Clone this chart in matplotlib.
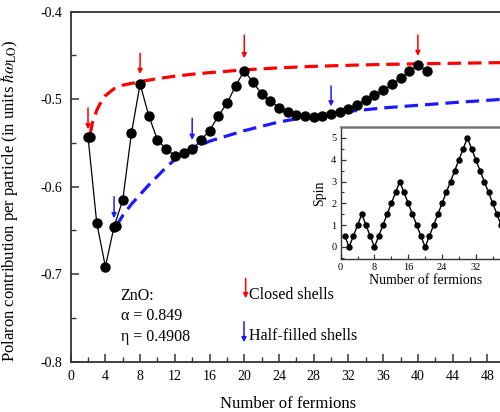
import matplotlib
matplotlib.use("Agg")
import matplotlib.pyplot as plt
from matplotlib.ticker import MultipleLocator

plt.rcParams['font.family'] = ['Liberation Serif', 'DejaVu Serif']
plt.rcParams['mathtext.fontset'] = 'stix'

# ---- main data: polaron contribution per particle ----
n_fermions = list(range(2, 42))
energy = [-0.5429, -0.6411, -0.6914, -0.6457, -0.6152, -0.5390, -0.4827, -0.5189,
          -0.5467, -0.5566, -0.5650, -0.5611, -0.5573, -0.5467, -0.5360, -0.5192,
          -0.5048, -0.4850, -0.4674, -0.4808, -0.4937, -0.5021, -0.5097, -0.5147,
          -0.5181, -0.5192, -0.5200, -0.5189, -0.5173, -0.5143, -0.5109, -0.5063,
          -0.5013, -0.4956, -0.4899, -0.4830, -0.4762, -0.4682, -0.4610, -0.4674]

# closed shell envelope (red dashed)
closed_x = [2.25, 2.5, 3, 3.5, 4, 5, 6, 7, 8, 10, 12, 14, 16, 20, 24, 28, 32, 36, 40, 44, 50]
closed_y = [-0.540, -0.527, -0.513, -0.503, -0.496, -0.488, -0.484, -0.482, -0.480,
            -0.4765, -0.4738, -0.4715, -0.4697, -0.4665, -0.4642, -0.4625, -0.4613,
            -0.4603, -0.4596, -0.4590, -0.4582]

# half-filled shell envelope (blue dashed)
half_x = [5.25, 6, 7, 8, 9, 10, 11, 12, 13, 14, 16, 18, 20, 24, 28, 32, 36, 40, 44, 50]
half_y = [-0.645, -0.633, -0.620, -0.609, -0.598, -0.588, -0.578, -0.569, -0.563, -0.557,
          -0.548, -0.542, -0.536, -0.526, -0.519, -0.514, -0.510, -0.507, -0.504, -0.500]

# arrows marking shells
closed_arrow_x = [2, 8, 20, 40]
closed_arrow_top = [-0.510, -0.4476, -0.4266, -0.4266]
closed_arrow_bot = [-0.5344, -0.4712, -0.4533, -0.4507]
half_arrow_x = [5, 14, 30]
half_arrow_top = [-0.6114, -0.5219, -0.4849]
half_arrow_bot = [-0.6361, -0.5466, -0.5083]

# inset: spin
spin_n = list(range(1, 41))
spin = [0.5, 0, 0.5, 1, 1.5, 1, 0.5, 0, 0.5, 1, 1.5, 2, 2.5, 3, 2.5, 2, 1.5, 1, 0.5, 0,
        0.5, 1, 1.5, 2, 2.5, 3, 3.5, 4, 4.5, 5, 4.5, 4, 3.5, 3, 2.5, 2, 1.5, 1, 0.5, 0]
inset_xticks = [0, 8, 16, 24, 32]

RED = '#ff0000'
BLUE = '#1a1aff'
SPINE = '#333333'

fig = plt.figure(figsize=(5.0, 4.12), dpi=100)
ax = fig.add_axes([0.1413, 0.1221, 0.8681, 0.8496])

ax.plot(n_fermions, energy, color='black', lw=0.9, marker='o', ms=6.5,
        mfc='black', mec='black', zorder=4)
ax.plot(closed_x, closed_y, color=RED, lw=2.3, dashes=(4.2, 2.2), zorder=3)
ax.plot(half_x, half_y, color=BLUE, lw=2.3, dashes=(4.2, 2.2), zorder=3)
# overlapping start markers of envelopes
ax.plot([closed_x[0]], [closed_y[0] - 0.003], 'o', color='black', ms=6.5, zorder=4)
ax.plot([half_x[0]], [half_y[0]], 'o', color='black', ms=6.5, zorder=4)

arrow_kw = dict(arrowstyle='-|>', lw=1.1, mutation_scale=7, shrinkA=0, shrinkB=0)
for x, t, b in zip(closed_arrow_x, closed_arrow_top, closed_arrow_bot):
    ax.annotate('', xy=(x, b), xytext=(x, t), arrowprops=dict(color=RED, **arrow_kw), zorder=5)
for x, t, b in zip(half_arrow_x, half_arrow_top, half_arrow_bot):
    ax.annotate('', xy=(x, b), xytext=(x, t), arrowprops=dict(color=BLUE, **arrow_kw), zorder=5)

FS = 11.5
# legend-like annotations
ax.annotate('', xy=(20.16, -0.7275), xytext=(20.16, -0.7047), arrowprops=dict(color=RED, **arrow_kw))
ax.text(20.6, -0.7283, 'Closed shells', fontsize=FS, va='baseline', ha='left')
ax.annotate('', xy=(19.97, -0.7778), xytext=(19.97, -0.7543), arrowprops=dict(color=BLUE, **arrow_kw))
ax.text(20.6, -0.7752, 'Half-filled shells', fontsize=FS, va='baseline', ha='left')

ax.text(5.76, -0.7295, 'ZnO:', fontsize=FS, va='baseline', ha='left')
ax.text(5.76, -0.7523, '\u03b1 = 0.849', fontsize=FS, va='baseline', ha='left')
ax.text(5.76, -0.7760, '\u03b7 = 0.4908', fontsize=FS, va='baseline', ha='left')

ax.set_xlim(0, 50)
ax.set_ylim(-0.8, -0.4)
ax.xaxis.set_major_locator(MultipleLocator(4))
ax.xaxis.set_minor_locator(MultipleLocator(2))
ax.yaxis.set_minor_locator(MultipleLocator(0.05))
ax.set_yticks([-0.8, -0.7, -0.6, -0.5, -0.4])
ax.set_yticklabels(['-0.8', '-0.7', '-0.6', '-0.5', '-0.4'])
ax.tick_params(which='both', direction='in', labelsize=10, color=SPINE)
ax.tick_params(which='major', length=6, width=1.1, pad=6)
ax.tick_params(which='minor', length=3.5, width=1.0)
ax.tick_params(axis='x', which='both', top=False)
for s in ax.spines.values():
    s.set_color(SPINE)
    s.set_linewidth(1.3)

ax.set_xlabel('Number of fermions', fontsize=12, labelpad=9)
ax.set_ylabel(r'Polaron contribution per particle (in units $\hbar\omega_{\mathrm{LO}}$)', fontsize=12)
ax.yaxis.set_label_coords(-0.117, 0.46)

# ---- inset ----
ins = fig.add_axes([0.6813, 0.3714, 0.338, 0.3204])
ins.plot(spin_n, spin, color='black', lw=1.0, marker='o', ms=3.6, mfc='black', mec='black')
ins.set_xlim(0, 40)
ins.set_ylim(-0.55, 5.5)
ins.set_xticks(inset_xticks)
ins.xaxis.set_minor_locator(MultipleLocator(4))
ins.yaxis.set_major_locator(MultipleLocator(1))
ins.yaxis.set_minor_locator(MultipleLocator(0.5))
ins.tick_params(which='both', direction='in', labelsize=7.5, pad=3, color=SPINE)
ins.tick_params(which='major', length=3.5, width=0.9)
ins.tick_params(which='minor', length=2, width=0.8)
ins.tick_params(axis='x', which='both', top=False)
ins.tick_params(axis='y', which='both', right=False)
for s in ins.spines.values():
    s.set_color(SPINE)
    s.set_linewidth(1.0)
ins.spines['top'].set_color('#777777')
ins.spines['top'].set_linewidth(1.8)
ins.set_xlabel('Number of fermions', fontsize=10, labelpad=1)
ins.set_ylabel('Spin', fontsize=10, labelpad=4)

fig.savefig('out.png', dpi=100)
